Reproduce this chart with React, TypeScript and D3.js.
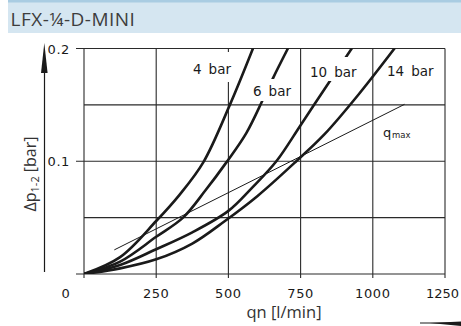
import React from "react";
import * as d3 from "d3";

const xTicks = [250, 500, 750, 1000, 1250];
const xGrid = [0, 250, 500, 750, 1000, 1250];
const yGrid = [0, 0.05, 0.1, 0.15, 0.2];
const yMajor = [0, 0.1, 0.2];
const yLabels = ["0.1", "0.2"];
const curveNames = ["4", "6", "10", "14"];

const bar4: [number, number][] = [[0, 0], [125, 0.015], [250, 0.047], [330, 0.07], [413, 0.099], [505, 0.15], [585, 0.2]];
const bar6: [number, number][] = [[0, 0], [125, 0.011], [250, 0.033], [343, 0.05], [420, 0.074], [493, 0.099], [562, 0.125], [620, 0.155], [655, 0.174], [706, 0.2]];
const bar10: [number, number][] = [[0, 0], [125, 0.008], [250, 0.022], [375, 0.037], [500, 0.056], [580, 0.076], [666, 0.1], [750, 0.132], [851, 0.171], [927, 0.2]];
const bar14: [number, number][] = [[0, 0], [125, 0.005], [250, 0.013], [375, 0.027], [488, 0.047], [600, 0.069], [735, 0.1], [833, 0.124], [950, 0.159], [1075, 0.2]];
const qmax: [number, number][] = [[105, 0.0214], [1110, 0.1505]];

const curves = [bar4, bar6, bar10, bar14];

export default function App() {
  const x = d3.scaleLinear().domain([0, 1250]).range([84, 445]);
  const y = d3.scaleLinear().domain([0, 0.2]).range([274, 48.5]);
  const line = d3
    .line<[number, number]>()
    .x((d) => x(d[0]))
    .y((d) => y(d[1]))
    .curve(d3.curveCatmullRom.alpha(0.5));
  const straight = d3.line<[number, number]>().x((d) => x(d[0])).y((d) => y(d[1]));
  const gridColor = "#2a2a2a";
  const tickFont = "'DejaVu Sans', sans-serif";
  const titleFont = "'Open Sans', sans-serif";
  const labelPos: [number, number][] = [[193, 73.5], [253, 96], [310, 77], [387, 76]];

  return (
    <svg
      width={461}
      height={326}
      style={{ position: "absolute", left: 0, top: 0, background: "#fff" }}
    >
      {/* header */}
      <rect x={8} y={0} width={453} height={33} fill="#d5e6f1" />
      <rect x={8} y={0} width={453} height={2.5} fill="#a9cce2" />
      <text x={10.5} y={25.5} fontFamily={titleFont} fontSize={19} letterSpacing={0.5} fill="#3d3d3d">
        LFX-¼-D-MINI
      </text>

      <defs>
        <clipPath id="plot">
          <rect x={x(0)} y={y(0.2)} width={x(1250) - x(0)} height={y(0) - y(0.2)} />
        </clipPath>
      </defs>

      {/* grid */}
      {xGrid.map((v) => (
        <line key={"vx" + v} x1={x(v)} x2={x(v)} y1={y(0.2)} y2={y(0) + 4} stroke={gridColor} strokeWidth={1.1} />
      ))}
      {yGrid.map((v) => (
        <line
          key={"hy" + v}
          x1={yMajor.includes(v) ? 76 : x(0)}
          x2={x(1250)}
          y1={y(v)}
          y2={y(v)}
          stroke={gridColor}
          strokeWidth={1.1}
        />
      ))}

      {/* curves */}
      <g clipPath="url(#plot)">
        {curves.map((c, i) => (
          <path key={i} d={line(c) || ""} fill="none" stroke="#1a1a1a" strokeWidth={2.6} strokeLinecap="round" />
        ))}
        <path d={straight(qmax) || ""} fill="none" stroke="#1a1a1a" strokeWidth={1} />
      </g>

      {/* label backgrounds */}
      <rect x={190} y={52} width={48} height={30} fill="#fff" />
      <rect x={250} y={79} width={49} height={22} fill="#fff" />
      <rect x={308} y={57} width={54} height={24} fill="#fff" />

      <g fontFamily={tickFont} fontSize={13.5} fill="#1a1a1a">
        {curveNames.map((n, i) => (
          <text key={n} x={labelPos[i][0]} y={labelPos[i][1]}>
            {n}
            <tspan dx={7}>bar</tspan>
          </text>
        ))}
        <text x={383} y={137} fontSize={13}>q</text>
        <text x={392} y={138} fontSize={8.5}>max</text>
      </g>

      {/* tick labels */}
      <g fontFamily={tickFont} fontSize={13} fill="#1a1a1a" letterSpacing={0.6}>
        {xTicks.map((v, i) => {
          const last = i === xTicks.length - 1;
          return (
            <text
              key={"xt" + v}
              x={last ? 459 : x(v)}
              y={297.5}
              textAnchor={last ? "end" : "middle"}
              letterSpacing={last ? 0 : 0.6}
            >
              {v}
            </text>
          );
        })}
        <text x={66} y={297.5} textAnchor="middle">0</text>
        {yLabels.map((l, i) => (
          <text key={l} x={70} y={y(yMajor[i + 1]) + 5} textAnchor="end">
            {l}
          </text>
        ))}
      </g>

      {/* y arrow */}
      <line x1={44.5} x2={44.5} y1={60} y2={272} stroke="#1a1a1a" strokeWidth={1.2} />
      <path d="M44.3,43 L47.6,73 L41,73 Z" fill="#1a1a1a" />

      {/* y title */}
      <text
        transform="translate(35.5,174) rotate(-90)"
        textAnchor="middle"
        fontFamily={titleFont}
        fontSize={16}
        fill="#333"
      >
        Δp
        <tspan fontSize={11} dy={3}>1-2</tspan>
        <tspan dy={-3}> [bar]</tspan>
      </text>

      {/* x title */}
      <text x={284} y={318} textAnchor="middle" fontFamily={titleFont} fontSize={16.5} fill="#333">
        qn [l/min]
      </text>

      {/* x arrow */}
      <line x1={420} x2={461} y1={323} y2={323} stroke="#1a1a1a" strokeWidth={1} />
      <path d="M430,323 L461,321.5 L461,326 Z" fill="#1a1a1a" />
    </svg>
  );
}
